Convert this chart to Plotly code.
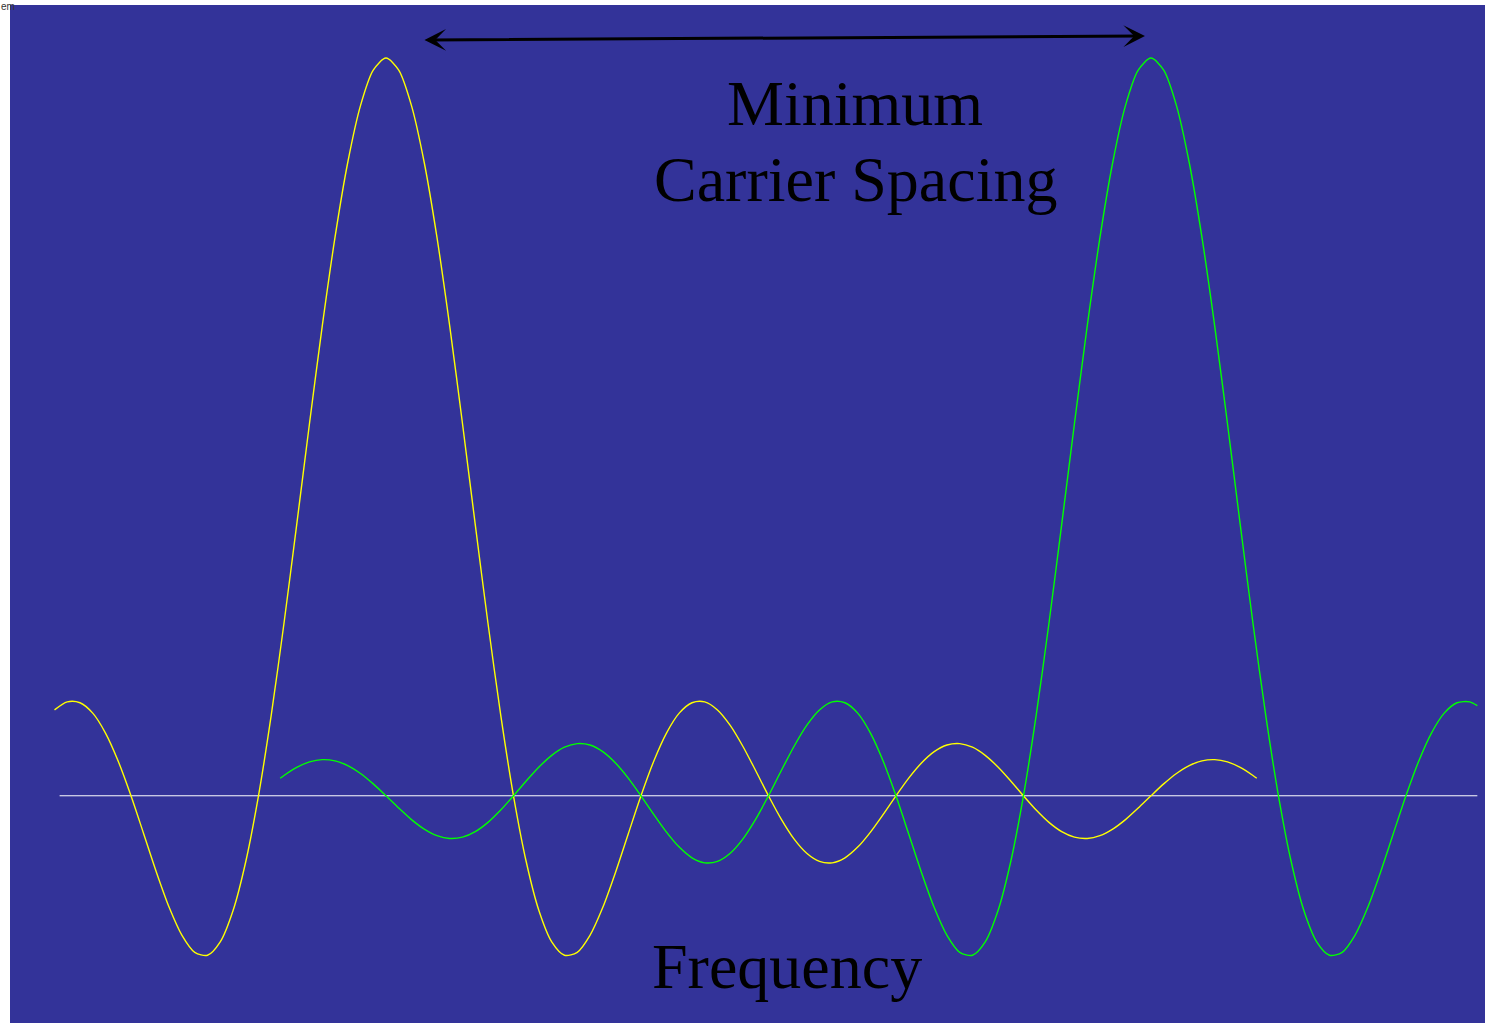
import plotly.graph_objects as go

# Frequency (in carrier-spacing units) and normalized amplitude
yellow_freq = [-2.6, -2.5, -2.4, -2.3, -2.2, -2.1, -2.0, -1.9, -1.8, -1.7, -1.6, -1.5, -1.4,
               -1.3, -1.2, -1.1, -1.0, -0.9, -0.8, -0.7, -0.6, -0.5, -0.4, -0.3, -0.2, -0.1,
               0.0, 0.1, 0.2, 0.3, 0.4, 0.5, 0.6, 0.7, 0.8, 0.9, 1.0, 1.1, 1.2, 1.3, 1.4,
               1.5, 1.6, 1.7, 1.8, 1.9, 2.0, 2.1, 2.2, 2.3, 2.4, 2.5, 2.6, 2.7, 2.8, 2.9,
               3.0, 3.1, 3.2, 3.3, 3.4, 3.5, 3.6, 3.7, 3.8, 3.9, 4.0, 4.1, 4.2, 4.3, 4.4,
               4.5, 4.6, 4.7, 4.8, 4.9, 5.0, 5.1, 5.2, 5.3, 5.4, 5.5, 5.6, 5.7, 5.8, 5.9,
               6.0, 6.1, 6.2, 6.3, 6.4, 6.5, 6.6, 6.7, 6.8, 6.83]
yellow_amp = [0.1164, 0.1273, 0.1261, 0.1120, 0.0850, 0.0468, 0.0, -0.0518, -0.1039, -0.1515,
              -0.1892, -0.2122, -0.2162, -0.1981, -0.1559, -0.0894, 0.0, 0.1093, 0.2339, 0.3679,
              0.5046, 0.6366, 0.7568, 0.8584, 0.9355, 0.9836,
              1.0, 0.9836, 0.9355, 0.8584, 0.7568, 0.6366, 0.5046, 0.3679, 0.2339, 0.1093,
              0.0, -0.0894, -0.1559, -0.1981, -0.2162, -0.2122, -0.1892, -0.1515, -0.1039,
              -0.0518, 0.0, 0.0468, 0.0850, 0.1120, 0.1261, 0.1273, 0.1164, 0.0954, 0.0668,
              0.0339, 0.0, -0.0317, -0.0585, -0.0780, -0.0890, -0.0909, -0.0841, -0.0696,
              -0.0492, -0.0252, 0.0, 0.0240, 0.0445, 0.0599, 0.0688, 0.0707, 0.0658, 0.0548,
              0.0390, 0.0201, 0.0, -0.0193, -0.0360, -0.0486, -0.0561, -0.0579, -0.0541,
              -0.0452, -0.0323, -0.0167, 0.0, 0.0161, 0.0302, 0.0409, 0.0473, 0.0490, 0.0459,
              0.0384, 0.0275, 0.0237]

green_freq = [-0.83, -0.8, -0.7, -0.6, -0.5, -0.4, -0.3, -0.2, -0.1, 0.0, 0.1, 0.2, 0.3, 0.4,
              0.5, 0.6, 0.7, 0.8, 0.9, 1.0, 1.1, 1.2, 1.3, 1.4, 1.5, 1.6, 1.7, 1.8, 1.9, 2.0,
              2.1, 2.2, 2.3, 2.4, 2.5, 2.6, 2.7, 2.8, 2.9, 3.0, 3.1, 3.2, 3.3, 3.4, 3.5, 3.6,
              3.7, 3.8, 3.9, 4.0, 4.1, 4.2, 4.3, 4.4, 4.5, 4.6, 4.7, 4.8, 4.9, 5.0, 5.1, 5.2,
              5.3, 5.4, 5.5, 5.6, 5.7, 5.8, 5.9, 6.0, 6.1, 6.2, 6.3, 6.4, 6.5, 6.6, 6.7, 6.8,
              6.9, 7.0, 7.1, 7.2, 7.3, 7.4, 7.5, 7.6, 7.7, 7.8, 7.9, 8.0, 8.1, 8.2, 8.3, 8.4,
              8.5, 8.56]
green_amp = [0.0237, 0.0275, 0.0384, 0.0459, 0.0490, 0.0473, 0.0409, 0.0302, 0.0161, 0.0,
             -0.0167, -0.0323, -0.0452, -0.0541, -0.0579, -0.0561, -0.0486, -0.0360, -0.0193,
             0.0, 0.0201, 0.0390, 0.0548, 0.0658, 0.0707, 0.0688, 0.0599, 0.0445, 0.0240, 0.0,
             -0.0252, -0.0492, -0.0696, -0.0841, -0.0909, -0.0890, -0.0780, -0.0585, -0.0317,
             0.0, 0.0339, 0.0668, 0.0954, 0.1164, 0.1273, 0.1261, 0.1120, 0.0850, 0.0468, 0.0,
             -0.0518, -0.1039, -0.1515, -0.1892, -0.2122, -0.2162, -0.1981, -0.1559, -0.0894,
             0.0, 0.1093, 0.2339, 0.3679, 0.5046, 0.6366, 0.7568, 0.8584, 0.9355, 0.9836, 1.0,
             0.9836, 0.9355, 0.8584, 0.7568, 0.6366, 0.5046, 0.3679, 0.2339, 0.1093, 0.0,
             -0.0894, -0.1559, -0.1981, -0.2162, -0.2122, -0.1892, -0.1515, -0.1039, -0.0518,
             0.0, 0.0468, 0.0850, 0.1120, 0.1261, 0.1273, 0.1221]

baseline_freq = [-2.56, 8.56]
baseline_amp = [0.0, 0.0]

spacing_start = 0.29
spacing_end = 5.953

label_top = "Minimum"
label_mid = "Carrier Spacing"
label_axis = "Frequency"
corner_text = "em"

BG = "#333399"

fig = go.Figure()
fig.add_trace(go.Scatter(x=baseline_freq, y=baseline_amp, mode="lines",
                         line=dict(color="#ffffff", width=1), hoverinfo="skip"))
fig.add_trace(go.Scatter(x=yellow_freq, y=yellow_amp, mode="lines",
                         line=dict(color="#ffff00", width=1.4, shape="spline", smoothing=0.8),
                         hoverinfo="skip"))
fig.add_trace(go.Scatter(x=green_freq, y=green_amp, mode="lines",
                         line=dict(color="#00ff00", width=1.4, shape="spline", smoothing=0.8),
                         hoverinfo="skip"))

font = dict(family="Liberation Serif, Times New Roman, serif", size=64, color="#000000")

fig.add_annotation(x=spacing_end, y=1.0299, ax=spacing_start, ay=1.0244,
                   xref="x", yref="y", axref="x", ayref="y", text="", showarrow=True,
                   arrowside="end+start", arrowhead=3, startarrowhead=3,
                   arrowwidth=3, arrowsize=1.2, startarrowsize=1.2, arrowcolor="#000000")
fig.add_annotation(x=3.678, y=0.9384, xref="x", yref="y", text=label_top, showarrow=False,
                   font=font, xanchor="center", yanchor="middle")
fig.add_annotation(x=3.686, y=0.8353, xref="x", yref="y", text=label_mid, showarrow=False,
                   font=font, xanchor="center", yanchor="middle")
fig.add_annotation(x=3.145, y=-0.2312, xref="x", yref="y", text=label_axis, showarrow=False,
                   font=font, xanchor="center", yanchor="middle")
fig.add_annotation(x=-0.0068, y=1, xref="paper", yref="paper", text=corner_text,
                   showarrow=False, xanchor="left", yanchor="top", yshift=5, borderpad=0,
                   font=dict(family="Liberation Sans, Arial, sans-serif", size=10, color="#333333"))

fig.update_layout(
    width=1485, height=1023, autosize=False,
    margin=dict(l=10, r=0, t=5, b=0, pad=0),
    paper_bgcolor="#ffffff", plot_bgcolor=BG,
    showlegend=False,
    xaxis=dict(range=[-2.949, 8.620], visible=False, fixedrange=True),
    yaxis=dict(range=[-0.3080, 1.0719], visible=False, fixedrange=True),
    hovermode=False,
)

fig.write_html("out.html", config={"displayModeBar": False},
               post_script="document.body.style.margin='0';")
